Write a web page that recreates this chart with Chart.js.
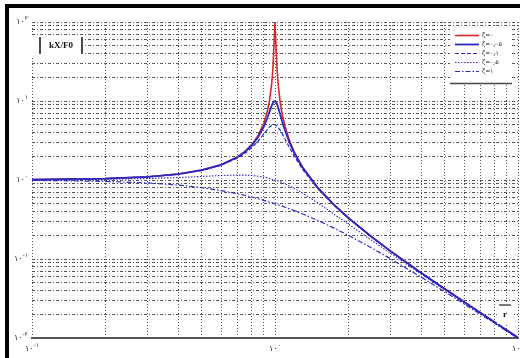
<!DOCTYPE html>
<html>
<head>
<meta charset="utf-8">
<script src="https://cdn.jsdelivr.net/npm/chart.js@4/dist/chart.umd.min.js"></script>
<style>
  html, body { margin: 0; padding: 0; background: #fff; }
  canvas { display: block; }
</style>
</head>
<body>
<canvas id="c" width="520" height="358"></canvas>
<script>
// Frequency ratio r = w / wn
const ratio = [0.1, 0.2, 0.3, 0.4, 0.5, 0.6, 0.7, 0.75, 0.8, 0.85, 0.9, 0.93, 0.95, 0.97, 0.98, 0.99, 1.0,
  1.01, 1.02, 1.03, 1.05, 1.07, 1.1, 1.15, 1.2, 1.3, 1.5, 1.75, 2, 2.5, 3, 4, 5, 7, 10];

// |kX/F0| for each damping ratio
const magZeta0 = [1.010, 1.042, 1.099, 1.190, 1.333, 1.563, 1.961, 2.286, 2.778, 3.604, 5.263, 7.402, 10.26, 16.92, 25.25, 50.25, 100,
  49.75, 24.75, 16.42, 9.756, 6.901, 4.762, 3.101, 2.273, 1.449, 0.800, 0.4848, 0.3333, 0.1905, 0.1250, 0.06667, 0.04167, 0.02083, 0.01010];
const magZeta005 = [1.010, 1.041, 1.098, 1.189, 1.330, 1.556, 1.943, 2.253, 2.712, 3.446, 4.757, 6.097, 7.346, 8.804, 9.461, 9.903, 10.00,
  9.711, 9.115, 8.357, 6.815, 5.552, 4.218, 2.921, 2.193, 1.424, 0.7943, 0.4831, 0.3326, 0.1903, 0.1249, 0.06664, 0.04166, 0.02083, 0.01010];
const magZeta01 = [1.010, 1.041, 1.097, 1.185, 1.322, 1.536, 1.891, 2.162, 2.538, 3.073, 3.821, 4.350, 4.683, 4.931, 5.001, 5.025, 5.000,
  4.926, 4.809, 4.655, 4.279, 3.869, 3.288, 2.525, 1.995, 1.356, 0.7779, 0.4780, 0.3304, 0.1896, 0.1247, 0.06657, 0.04163, 0.02082, 0.01010];
const magZeta05 = [1.005, 1.020, 1.044, 1.075, 1.109, 1.140, 1.155, 1.152, 1.140, 1.118, 1.087, 1.064, 1.047, 1.029, 1.020, 1.010, 1.000,
  0.9899, 0.9796, 0.9692, 0.9479, 0.9261, 0.8930, 0.8373, 0.7824, 0.6795, 0.5121, 0.3697, 0.2774, 0.1720, 0.1170, 0.06442, 0.04079, 0.02062, 0.01005];
const magZeta1 = [0.9901, 0.9615, 0.9174, 0.8621, 0.8000, 0.7353, 0.6711, 0.6400, 0.6098, 0.5806, 0.5525, 0.5362, 0.5256, 0.5152, 0.5101, 0.5050, 0.5000,
  0.4950, 0.4901, 0.4852, 0.4756, 0.4662, 0.4525, 0.4306, 0.4098, 0.3717, 0.3077, 0.2462, 0.2000, 0.1379, 0.1000, 0.05882, 0.03846, 0.02000, 0.009901];

const seriesLabels = ['ζ=۰', 'ζ=۰٫۰۵', 'ζ=۰٫۱', 'ζ=۰٫۵', 'ζ=۱'];

// Log axes: decade tick values and their exponent labels
const xDecades = [0.1, 1, 10];
const xExponents = ['-۱', '۰', '۱'];
const yDecades = [0.01, 0.1, 1, 10, 100];
const yExponents = ['-۲', '-۱', '۰', '۱', '۲'];
const minorSteps = [1, 2, 3, 4, 5, 6, 7, 8, 9];

const toPoints = (ys) => ratio.map((r, i) => ({ x: r, y: ys[i] }));

function gridValues(decades) {
  const vals = [];
  decades.forEach((d, k) => {
    if (k === decades.length - 1) { vals.push(d); return; }
    minorSteps.forEach(m => vals.push(+(d * m).toPrecision(6)));
  });
  return vals;
}

const RED = '#d42a2a';
const BLUE = '#2a2ac4';

function drawPower(ctx, x, y, exp, align) {
  ctx.font = '8px "DejaVu Sans"';
  const baseW = ctx.measureText('۱۰').width;
  ctx.font = '6px "DejaVu Sans"';
  const expW = ctx.measureText(exp).width;
  const total = baseW + expW;
  const left = align === 'right' ? x - total : x - total / 2;
  ctx.textAlign = 'left';
  ctx.textBaseline = 'middle';
  ctx.font = '8px "DejaVu Sans"';
  ctx.fillText('۱۰', left, y);
  ctx.font = '6px "DejaVu Sans"';
  ctx.fillText(exp, left + baseW, y - 4);
}

const decorations = {
  id: 'decorations',
  afterDatasetsDraw(chart) {
    const ctx = chart.ctx;
    ctx.save();
    ctx.fillStyle = '#fff';

    // y-axis quantity label
    ctx.fillRect(30, 35, 55, 21);
    ctx.strokeStyle = '#111';
    ctx.lineWidth = 1.5;
    ctx.beginPath();
    ctx.moveTo(40, 37); ctx.lineTo(40, 54);
    ctx.moveTo(82, 37); ctx.lineTo(82, 54);
    ctx.stroke();
    ctx.fillStyle = '#111';
    ctx.font = 'bold 9px "Liberation Serif"';
    ctx.textAlign = 'center';
    ctx.textBaseline = 'middle';
    ctx.fillText('kX/F0', 61, 46);

    // x-axis quantity label
    ctx.fillStyle = '#fff';
    ctx.fillRect(497, 302, 17, 22);
    ctx.strokeStyle = '#222';
    ctx.lineWidth = 1.2;
    ctx.beginPath();
    ctx.moveTo(499, 305); ctx.lineTo(511, 305);
    ctx.stroke();
    ctx.fillStyle = '#111';
    ctx.font = 'bold 9px "Liberation Serif"';
    ctx.fillText('r', 505, 315);

    // legend
    ctx.fillStyle = '#fff';
    ctx.fillRect(450, 28, 62, 55);
    ctx.strokeStyle = '#444';
    ctx.lineWidth = 1.5;
    ctx.beginPath();
    ctx.moveTo(450, 83.5); ctx.lineTo(512, 83.5);
    ctx.stroke();
    chart.data.datasets.forEach((ds, i) => {
      const y = 35.5 + i * 9;
      ctx.strokeStyle = ds.borderColor;
      ctx.lineWidth = ds.borderWidth;
      ctx.setLineDash(ds.borderDash || []);
      ctx.beginPath();
      ctx.moveTo(455, y); ctx.lineTo(479, y);
      ctx.stroke();
      ctx.setLineDash([]);
      ctx.fillStyle = '#222';
      ctx.font = '6px "DejaVu Sans"';
      ctx.textAlign = 'left';
      ctx.textBaseline = 'middle';
      ctx.fillText(ds.label, 482, y);
    });
    ctx.restore();
  },
  afterDraw(chart) {
    const ctx = chart.ctx;
    const xs = chart.scales.x, ys = chart.scales.y;
    ctx.save();
    ctx.fillStyle = '#222';
    yDecades.forEach((v, i) => drawPower(ctx, xs.left - 4, ys.getPixelForValue(v), yExponents[i], 'right'));
    xDecades.forEach((v, i) => drawPower(ctx, xs.getPixelForValue(v), ys.bottom + 11, xExponents[i], 'center'));
    // figure frame
    ctx.fillStyle = '#000';
    ctx.fillRect(5, 4, 515, 4);
    ctx.fillRect(5, 4, 4, 354);
    ctx.restore();
  }
};

new Chart(document.getElementById('c'), {
  type: 'line',
  data: {
    datasets: [
      { label: seriesLabels[0], data: toPoints(magZeta0), borderColor: RED, borderWidth: 1.6, order: 5 },
      { label: seriesLabels[1], data: toPoints(magZeta005), borderColor: BLUE, borderWidth: 1.8, order: 1 },
      { label: seriesLabels[2], data: toPoints(magZeta01), borderColor: BLUE, borderWidth: 1.2, borderDash: [4, 2], order: 2 },
      { label: seriesLabels[3], data: toPoints(magZeta05), borderColor: BLUE, borderWidth: 1.1, borderDash: [1.5, 1.5], order: 3 },
      { label: seriesLabels[4], data: toPoints(magZeta1), borderColor: BLUE, borderWidth: 1.2, borderDash: [5, 2, 1.5, 2], order: 4 }
    ]
  },
  options: {
    responsive: false,
    devicePixelRatio: 1,
    animation: false,
    layout: { padding: { left: 32, top: 22, right: 2, bottom: 20 } },
    elements: { point: { radius: 0 }, line: { tension: 0, fill: false } },
    plugins: { legend: { display: false }, tooltip: { enabled: false } },
    scales: {
      x: {
        type: 'logarithmic',
        min: 0.1, max: 10,
        afterBuildTicks: (s) => { s.ticks = gridValues(xDecades).map(v => ({ value: v })); },
        ticks: { display: false },
        grid: { color: '#555', lineWidth: 1, drawTicks: false },
        border: { display: true, color: '#555', width: 2, dash: [1, 2] }
      },
      y: {
        type: 'logarithmic',
        min: 0.01, max: 100,
        afterBuildTicks: (s) => { s.ticks = gridValues(yDecades).map(v => ({ value: v })); },
        ticks: { display: false },
        grid: { color: '#555', lineWidth: 1, drawTicks: false },
        border: { display: false, dash: [3, 2, 1, 2] }
      }
    }
  },
  plugins: [decorations]
});
</script>
</body>
</html>
